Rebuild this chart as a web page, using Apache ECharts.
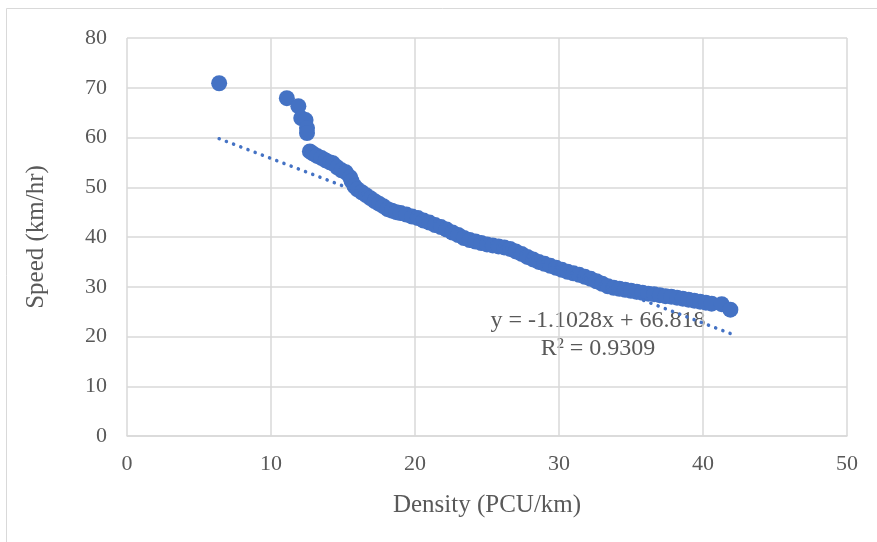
<!DOCTYPE html>
<html><head><meta charset="utf-8">
<script src="https://cdn.jsdelivr.net/npm/echarts@6/dist/echarts.min.js"></script>
<style>html,body{margin:0;padding:0;background:#fff}#c{width:877px;height:542px}</style>
</head><body><div id="c"></div>
<script>
const densityVals = [6.4, 11.1, 11.9, 12.1, 12.4, 12.5, 12.5,
 12.7, 12.9, 13.2, 13.5, 13.8, 14.1, 14.3, 14.6, 14.9, 15.2, 15.5, 15.6, 15.8, 16.0, 16.3, 16.6, 16.9, 17.2, 17.5, 17.8,
 18.1, 18.4, 18.7, 19.0, 19.4, 19.8, 20.2, 20.6, 21.0, 21.4, 21.8, 22.2, 22.6, 23.0, 23.4, 23.8, 24.2, 24.6, 25.0, 25.4,
 25.8, 26.2, 26.6, 27.0, 27.4, 27.8, 28.2, 28.6, 29.0, 29.4, 29.8, 30.2, 30.6, 31.0, 31.4, 31.8, 32.2, 32.6, 33.0, 33.4,
 33.8, 34.2, 34.6, 35.0, 35.4, 35.8, 36.2, 36.6, 37.0, 37.4, 37.8, 38.2, 38.6, 39.0, 39.4, 39.8, 40.2, 40.6, 41.3, 41.9];
const speedVals = [70.9, 67.9, 66.3, 63.9, 63.5, 61.9, 60.9,
 57.2, 56.8, 56.3, 55.9, 55.4, 55.0, 54.8, 54.0, 53.4, 53.0, 52.0, 51.2, 50.2, 49.6, 49.0, 48.4, 47.8, 47.2, 46.7, 46.2,
 45.6, 45.3, 45.0, 44.8, 44.5, 44.1, 43.8, 43.3, 42.9, 42.4, 42.0, 41.5, 40.9, 40.4, 39.8, 39.4, 39.1, 38.8, 38.5, 38.3,
 38.1, 37.9, 37.6, 37.1, 36.6, 36.0, 35.5, 35.0, 34.6, 34.2, 33.8, 33.4, 33.0, 32.7, 32.4, 32.0, 31.6, 31.1, 30.6, 30.1,
 29.8, 29.6, 29.4, 29.2, 29.0, 28.8, 28.6, 28.5, 28.3, 28.1, 28.0, 27.8, 27.6, 27.4, 27.2, 27.0, 26.8, 26.6, 26.5, 25.4];
const trendSlope = -1.1028;
const trendIntercept = 66.818;
const trendX = [6.4, 41.9];
const xTicks = [0, 10, 20, 30, 40, 50];
const yTicks = [0, 10, 20, 30, 40, 50, 60, 70, 80];
const eqText = 'y = -1.1028x + 66.818';
const r2Text = 'R² = 0.9309';

const pts = densityVals.map((d, i) => [d, speedVals[i]]);
const trendPts = trendX.map(x => [x, trendSlope * x + trendIntercept]);
const font = '"Liberation Serif", "Times New Roman", serif';
const chart = echarts.init(document.getElementById('c'), null, {renderer: 'canvas'});
chart.setOption({
  animation: false,
  backgroundColor: '#fff',
  grid: {left: 127, right: 30, top: 38, bottom: 106, containLabel: false},
  xAxis: {
    type: 'value', min: xTicks[0], max: xTicks[xTicks.length-1], interval: 10,
    name: 'Density (PCU/km)', nameLocation: 'middle', nameGap: 57,
    nameTextStyle: {fontFamily: font, fontSize: 25, color: '#595959'},
    axisLine: {show: true, lineStyle: {color: '#d9d9d9', width: 1.5}},
    axisTick: {show: false},
    axisLabel: {fontFamily: font, fontSize: 22, color: '#595959', margin: 17},
    splitLine: {show: true, lineStyle: {color: '#d9d9d9', width: 1.5}}
  },
  yAxis: {
    type: 'value', min: yTicks[0], max: yTicks[yTicks.length-1], interval: 10,
    name: 'Speed (km/hr)', nameLocation: 'middle', nameGap: 78, nameRotate: 90,
    nameTextStyle: {fontFamily: font, fontSize: 25, color: '#595959'},
    axisLine: {show: false},
    axisTick: {show: false},
    axisLabel: {fontFamily: font, fontSize: 22, color: '#595959', margin: 20},
    splitLine: {show: true, lineStyle: {color: '#d9d9d9', width: 1.5}}
  },
  graphic: [
    {type: 'rect', shape: {x: 6.5, y: 8.5, width: 900, height: 600}, style: {fill: 'none', stroke: '#d9d9d9', lineWidth: 1}, z: -10},
    {type: 'text', x: 598, y: 321, style: {text: eqText, font: '24px ' + font, fill: '#595959', align: 'center', verticalAlign: 'middle'}},
    {type: 'text', x: 598, y: 349, style: {text: r2Text, font: '24px ' + font, fill: '#595959', align: 'center', verticalAlign: 'middle'}}
  ],
  series: [
    {type: 'scatter', data: pts, symbol: 'circle', symbolSize: 16, itemStyle: {color: '#4472C4', opacity: 1}, z: 3},
    {type: 'line', data: trendPts, symbol: 'none', z: 4,
     lineStyle: {color: '#4472C4', width: 3.5, type: [0.1, 7.6], cap: 'round'}}
  ]
});
</script></body></html>
